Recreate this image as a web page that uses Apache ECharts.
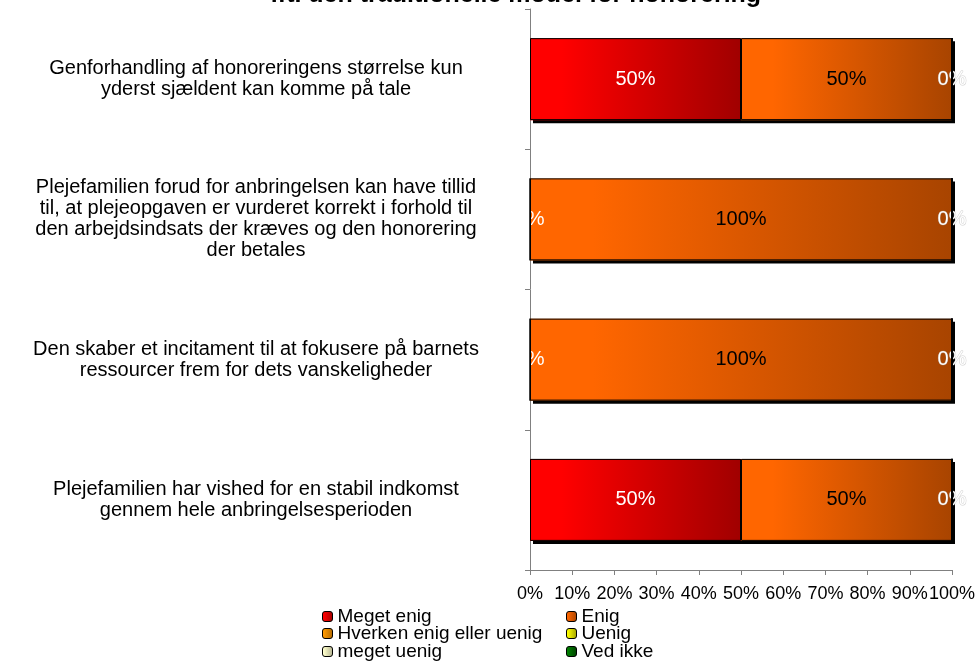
<!DOCTYPE html>
<html>
<head>
<meta charset="utf-8">
<script src="https://cdn.jsdelivr.net/npm/echarts@6/dist/echarts.min.js"></script>
<style>
  html, body { margin: 0; padding: 0; background: #fff; }
  #chart { width: 978px; height: 661px; }
</style>
</head>
<body>
<div id="chart"></div>
<script>
// Survey statements (top to bottom)
var categories = [
  'Genforhandling af honoreringens størrelse kun\nyderst sjældent kan komme på tale',
  'Plejefamilien forud for anbringelsen kan have tillid\ntil, at plejeopgaven er vurderet korrekt i forhold til\nden arbejdsindsats der kræves og den honorering\nder betales',
  'Den skaber et incitament til at fokusere på barnets\nressourcer frem for dets vanskeligheder',
  'Plejefamilien har vished for en stabil indkomst\ngennem hele anbringelsesperioden'
];

// Answer shares in percent
var megetEnig = [50, 0, 0, 50];
var enig = [50, 100, 100, 50];
var hverken = [0, 0, 0, 0];
var uenig = [0, 0, 0, 0];
var megetUenig = [0, 0, 0, 0];
var vedIkke = [0, 0, 0, 0];

var seriesNames = ['Meget enig', 'Enig', 'Hverken enig eller uenig', 'Uenig', 'meget uenig', 'Ved ikke'];
var xTicks = [0, 10, 20, 30, 40, 50, 60, 70, 80, 90, 100];

var titleText = 'ift. den traditionelle model for honorering';

var FONT = 'Liberation Sans, Arial, sans-serif';
var BAR_W = 82;

function grad(c0, c1) {
  return new echarts.graphic.LinearGradient(0, 0, 1, 0, [
    { offset: 0, color: c0 },
    { offset: 0.15, color: c0 },
    { offset: 1, color: c1 }
  ]);
}

// Filled segments with a hard drop shadow (no outline, so the shadow stays outside)
function fillSeries(name, data, c0, c1, label) {
  return {
    name: name,
    type: 'bar',
    stack: 'fill',
    data: data,
    barWidth: BAR_W,
    barGap: '-100%',
    itemStyle: {
      color: grad(c0, c1),
      borderWidth: 0,
      shadowColor: '#000',
      shadowOffsetX: 3,
      shadowOffsetY: 3,
      shadowBlur: 0
    },
    label: label ? Object.assign({
      show: true,
      position: 'inside',
      formatter: '{c}%',
      fontFamily: FONT,
      fontSize: 20
    }, label) : { show: false },
    emphasis: { disabled: true },
    z: 2
  };
}

// Black outlines drawn on top of the filled segments
function outlineSeries(name, data) {
  return {
    name: name + ' ',
    type: 'bar',
    stack: 'outline',
    data: data,
    barWidth: BAR_W,
    barGap: '-100%',
    itemStyle: { color: 'rgba(0,0,0,0)', borderColor: '#000', borderWidth: 1 },
    label: { show: false },
    emphasis: { disabled: true },
    silent: true,
    z: 3
  };
}

function legendItem(name, left, top) {
  return {
    left: left,
    top: top,
    itemWidth: 10,
    itemHeight: 10,
    padding: 0,
    data: [name],
    itemStyle: { borderColor: '#000', borderWidth: 1, shadowBlur: 0, shadowOffsetX: 0, shadowOffsetY: 0 },
    textStyle: { fontFamily: FONT, fontSize: 19, color: '#000' }
  };
}

var chart = echarts.init(document.getElementById('chart'), null, { renderer: 'canvas' });

chart.setOption({
  animation: false,
  title: {
    text: titleText,
    left: 511,
    top: -22,
    textAlign: 'center',
    textStyle: { fontFamily: FONT, fontSize: 25, fontWeight: 'bold', color: '#000' }
  },
  grid: { left: 530, right: 26, top: 9, bottom: 91, containLabel: false, outerBoundsMode: 'none' },
  xAxis: {
    type: 'value',
    min: 0,
    max: 100,
    interval: 10,
    axisLine: { show: true, lineStyle: { color: '#808080', width: 1 } },
    axisTick: { show: true, length: 5, lineStyle: { color: '#808080' } },
    splitLine: { show: false },
    axisLabel: {
      formatter: function (v) { return xTicks.indexOf(v) >= 0 ? v + '%' : ''; },
      color: '#000',
      fontFamily: FONT,
      fontSize: 18,
      margin: 15,
      hideOverlap: false,
      showMinLabel: true,
      showMaxLabel: true
    }
  },
  yAxis: {
    type: 'category',
    data: categories,
    inverse: true,
    axisLine: { show: true, lineStyle: { color: '#808080', width: 1 } },
    axisTick: { show: true, length: 5, lineStyle: { color: '#808080' } },
    axisLabel: {
      align: 'center',
      margin: 274,
      color: '#000',
      fontFamily: FONT,
      fontSize: 20,
      lineHeight: 21
    }
  },
  legend: [
    legendItem(seriesNames[0], 322, 607),
    legendItem(seriesNames[2], 322, 624),
    legendItem(seriesNames[4], 322, 642),
    legendItem(seriesNames[1], 566, 607),
    legendItem(seriesNames[3], 566, 624),
    legendItem(seriesNames[5], 566, 642)
  ],
  series: [
    fillSeries(seriesNames[0], megetEnig, '#FF0000', '#A00000', { color: '#fff' }),
    fillSeries(seriesNames[1], enig, '#FF6600', '#A84400', { color: '#000' }),
    fillSeries(seriesNames[2], hverken, '#FF9900', '#B06800', {
      color: '#fff', textBorderColor: 'rgba(150,150,150,0.45)', textBorderWidth: 1
    }),
    fillSeries(seriesNames[3], uenig, '#FFFF00', '#A0A000', null),
    fillSeries(seriesNames[4], megetUenig, '#FFFFCC', '#B0B090', null),
    fillSeries(seriesNames[5], vedIkke, '#008000', '#004000', null),
    outlineSeries(seriesNames[0], megetEnig),
    outlineSeries(seriesNames[1], enig),
    outlineSeries(seriesNames[2], hverken),
    outlineSeries(seriesNames[3], uenig),
    outlineSeries(seriesNames[4], megetUenig),
    outlineSeries(seriesNames[5], vedIkke)
  ]
});
</script>
</body>
</html>
